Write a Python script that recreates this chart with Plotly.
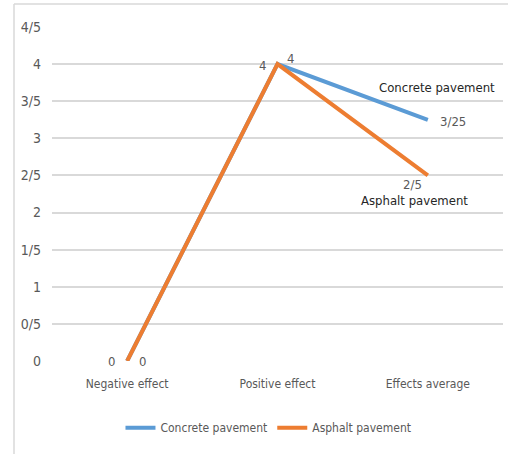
import plotly.graph_objects as go

# Survey results: effect scores for two pavement types
categories = ["Negative effect", "Positive effect", "Effects average"]
concrete = [0, 4, 3.25]
asphalt = [0, 4, 2.5]
y_ticks = [0, 0.5, 1, 1.5, 2, 2.5, 3, 3.5, 4, 4.5]

BLUE = "#5B9BD5"
ORANGE = "#ED7D31"
TEXT = "#595959"
GRID = "#D9D9D9"
FONT = "DejaVu Sans Condensed, Roboto Condensed, Roboto, sans-serif"

W, H = 508, 454
ML, MR, MT, MB = 52, 5, 27, 93


def fmt(v):
    """Format a number with '/' as the decimal separator."""
    s = f"{v:g}"
    return s.replace(".", "/")


fig = go.Figure()
fig.add_trace(go.Scatter(x=categories, y=concrete, mode="lines", name="Concrete pavement",
                         line=dict(color=BLUE, width=4)))
fig.add_trace(go.Scatter(x=categories, y=asphalt, mode="lines", name="Asphalt pavement",
                         line=dict(color=ORANGE, width=4)))

ann = []
lab_font = dict(family=FONT, size=13, color=TEXT)
# concrete value labels (right / upper right)
ann.append(dict(x=categories[0], y=concrete[0], text=fmt(concrete[0]), xanchor="left",
                yanchor="middle", xshift=10, showarrow=False, font=lab_font))
ann.append(dict(x=categories[1], y=concrete[1], text=fmt(concrete[1]), xanchor="left",
                yanchor="middle", xshift=7, yshift=6, showarrow=False, font=lab_font))
ann.append(dict(x=categories[2], y=concrete[2], text=fmt(concrete[2]), xanchor="left",
                yanchor="middle", xshift=10, yshift=-2, showarrow=False, font=lab_font))
# asphalt value labels (left / below)
ann.append(dict(x=categories[0], y=asphalt[0], text=fmt(asphalt[0]), xanchor="right",
                yanchor="middle", xshift=-10, showarrow=False, font=lab_font))
ann.append(dict(x=categories[1], y=asphalt[1], text=fmt(asphalt[1]), xanchor="right",
                yanchor="middle", xshift=-10, yshift=-1, showarrow=False, font=lab_font))
ann.append(dict(x=categories[2], y=asphalt[2], text=fmt(asphalt[2]), xanchor="center",
                yanchor="middle", xshift=-15, yshift=-9, showarrow=False, font=lab_font))
# series name labels
ann.append(dict(x=categories[2], y=concrete[2], text="Concrete pavement", xanchor="center",
                yanchor="middle", xshift=9, yshift=32, showarrow=False,
                font=dict(family=FONT, size=13, color="#262626")))
ann.append(dict(x=categories[2], y=asphalt[2], text="Asphalt pavement", xanchor="center",
                yanchor="middle", xshift=-13, yshift=-25, showarrow=False,
                font=dict(family=FONT, size=13, color="#262626")))

pw = W - ML - MR
ph = H - MT - MB
# chart frame (left and top edges)
shapes = [
    dict(type="line", xref="paper", yref="paper", x0=(14 - ML) / pw, x1=(14 - ML) / pw,
         y0=(H - MB - 454) / ph, y1=(H - MB - 4) / ph, line=dict(color=GRID, width=1.5)),
    dict(type="line", xref="paper", yref="paper", x0=(14 - ML) / pw, x1=(508 - ML) / pw,
         y0=(H - MB - 4) / ph, y1=(H - MB - 4) / ph, line=dict(color=GRID, width=1.5)),
]

fig.update_layout(
    width=W, height=H,
    margin=dict(l=ML, r=MR, t=MT, b=MB),
    paper_bgcolor="white", plot_bgcolor="white",
    font=dict(family=FONT, size=13, color=TEXT),
    showlegend=True,
    legend=dict(orientation="h", x=0.48, xanchor="center", y=-0.2, yanchor="middle",
                font=dict(family=FONT, size=12, color=TEXT), itemwidth=30,
                tracegroupgap=0, bgcolor="rgba(0,0,0,0)"),
    annotations=ann,
    shapes=shapes,
    xaxis=dict(showgrid=False, showline=False, zeroline=False, ticks="",
               tickfont=dict(family=FONT, size=12, color=TEXT), ticklabelstandoff=14,
               range=[-0.5, 2.5]),
    yaxis=dict(range=[0, 4.5], tickvals=y_ticks, ticktext=[fmt(v) for v in y_ticks],
               showgrid=True, gridcolor=GRID, gridwidth=1.5, zeroline=False, showline=False,
               ticks="", tickfont=dict(family=FONT, size=14, color=TEXT), ticklabelstandoff=10),
)

fig.write_html("out.html")
